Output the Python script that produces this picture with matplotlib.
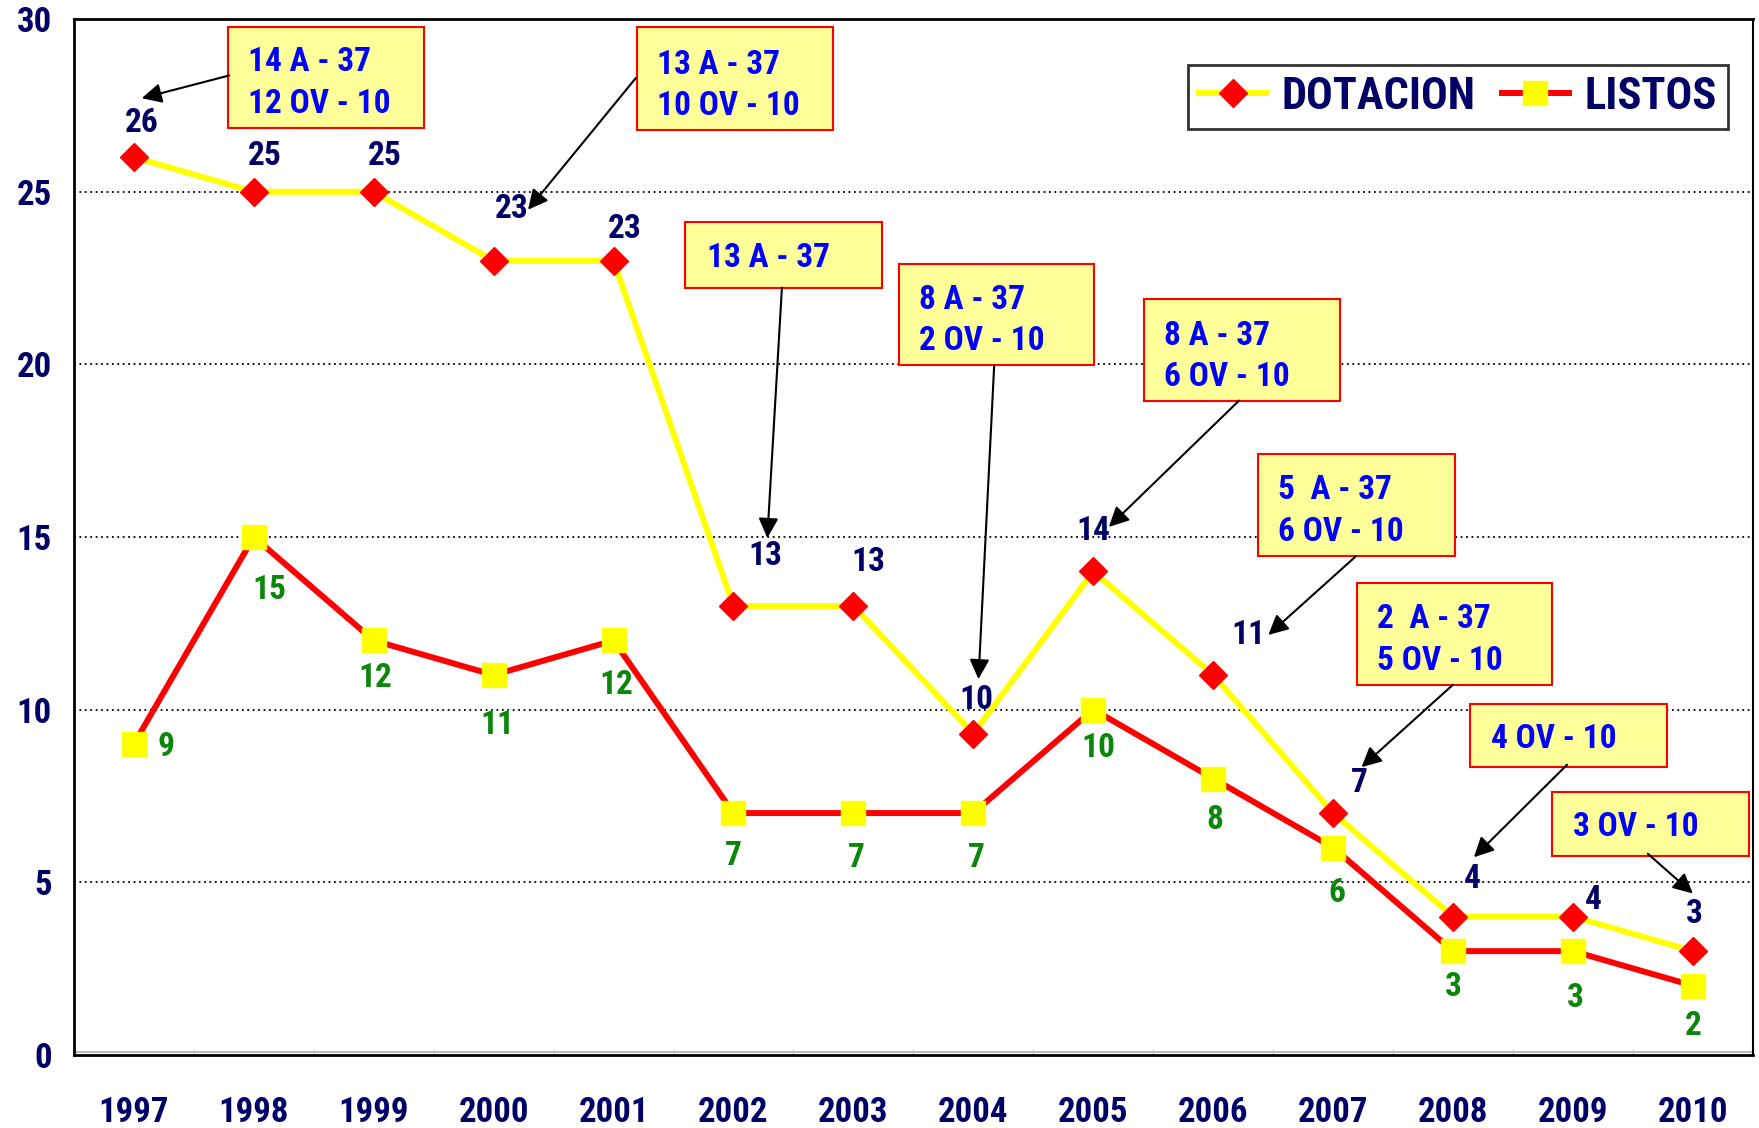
import numpy as np
import matplotlib
matplotlib.use('Agg')
import matplotlib.pyplot as plt
import matplotlib.font_manager as fm
from matplotlib.patches import Rectangle
from matplotlib.lines import Line2D

years = [1997, 1998, 1999, 2000, 2001, 2002, 2003, 2004, 2005, 2006, 2007, 2008, 2009, 2010]
dotacion = [26, 25, 25, 23, 23, 13, 13, 9.3, 14, 11, 7, 4, 4, 3]
dotacion_lbl = ['26', '25', '25', '23', '23', '13', '13', '10', '14', '11', '7', '4', '4', '3']
listos = [9, 15, 12, 11, 12, 7, 7, 7, 10, 8, 6, 3, 3, 2]

# label offsets (points)
dot_off = [(6, 25), (8, 26), (8, 26), (13, 37), (8, 23), (23, 36), (11, 32),
           (2, 24), (0, 29), (25, 29), (19, 22), (14, 27), (15, 12), (1, 27)]
lis_off = [(23, -2), (11, -38), (1, -27), (3, -36), (2, -32), (0, -31), (2, -32),
           (2, -32), (4, -28), (1, -30), (3, -33), (0, -26), (2, -34), (0, -29)]

# callout boxes: text, (x0, x1, ybot, ytop), text pos, arrow start, arrow tip
notes = [
    ('14 A - 37\n12 OV - 10', (1997.787, 1999.416, 26.86, 29.77), (1997.955, 28.15), (1997.796, 28.37), (1997.066, 27.71)),
    ('13 A - 37\n10 OV - 10', (2001.196, 2002.826, 26.80, 29.77), (2001.364, 28.08), (2001.187, 28.30), (2000.287, 24.48)),
    ('13 A - 37', (2001.599, 2003.238, 22.22, 24.12), (2001.777, 23.08), (2002.404, 22.22), (2002.282, 14.97)),
    ('8 A - 37\n2 OV - 10', (2003.378, 2005.008, 19.97, 22.91), (2003.547, 21.27), (2004.174, 19.97), (2004.043, 10.88)),
    ('8 A - 37\n6 OV - 10', (2005.420, 2007.059, 18.95, 21.90), (2005.589, 20.23), (2006.216, 18.95), (2005.130, 15.29)),
    ('5  A - 37\n6 OV - 10', (2006.375, 2008.014, 14.44, 17.39), (2006.544, 15.75), (2007.190, 14.44), (2006.460, 12.16)),
    ('2  A - 37\n5 OV - 10', (2007.199, 2008.829, 10.72, 13.66), (2007.368, 12.01), (2008.000, 10.72), (2007.237, 8.33)),
    ('4 OV - 10', (2008.145, 2009.784, 8.33, 10.16), (2008.314, 9.16), (2008.951, 8.40), (2008.174, 5.72)),
    ('3 OV - 10', (2008.829, 2010.468, 5.75, 7.61), (2008.998, 6.61), (2009.625, 5.82), (2010.000, 4.67)),
]

# pick a narrow bold font if one is there
fam = 'Liberation Sans'
for f in ['Roboto Condensed', 'Archivo Narrow', 'PT Sans Narrow', 'Liberation Sans']:
    try:
        fm.findfont(fm.FontProperties(family=f, weight='bold'), fallback_to_default=False)
        fam = f
        break
    except ValueError:
        pass
plt.rcParams['font.family'] = [fam, 'DejaVu Sans']
plt.rcParams['font.weight'] = 'bold'

navy = '#000066'
green = '#0A860A'

fig = plt.figure(figsize=(17.59, 11.28), dpi=100)
ax = fig.add_axes([0.042, 0.065, 0.9545, 0.918])

for y in [5, 10, 15, 20, 25]:
    ax.axhline(y, color='black', lw=1.3, ls=(0, (1, 2)), zorder=1)
ax.axhline(0.08, color='#BBBBBB', lw=1.5, zorder=1)

ax.plot(years, dotacion, color='#FFFF00', lw=4.3, marker='D', ms=14,
        mfc='#FF0000', mec='#FF0000', zorder=3)
ax.plot(years, listos, color='#FF0000', lw=4.3, marker='s', ms=17,
        mfc='#FFFF00', mec='#FFFF00', zorder=3)

for x, y, t, o in zip(years, dotacion, dotacion_lbl, dot_off):
    ax.annotate(t, (x, y), xytext=o, textcoords='offset points', ha='center', va='center',
                fontsize=24, color=navy, fontweight='bold', zorder=5)
for x, y, o in zip(years, listos, lis_off):
    ax.annotate(str(y), (x, y), xytext=o, textcoords='offset points', ha='center', va='center',
                fontsize=24, color=green, fontweight='bold', zorder=5)

for txt, (x0, x1, y0, y1), tpos, start, tip in notes:
    ax.add_patch(Rectangle((x0, y0), x1 - x0, y1 - y0, facecolor='#FFFF99',
                           edgecolor='#FF0000', lw=1.5, zorder=4, clip_on=False))
    ax.text(tpos[0], tpos[1], txt, ha='left', va='center', fontsize=24, color='#0000FF',
            fontweight='bold', linespacing=1.38, zorder=5)
    ax.annotate('', xy=tip, xytext=start,
                arrowprops=dict(arrowstyle='-|>', color='black', lw=1.5,
                                mutation_scale=30, shrinkA=0, shrinkB=0), zorder=5)

ax.set_xlim(1996.5, 2010.5)
ax.set_ylim(0, 30)
ax.set_xticks(years)
ax.set_xticklabels([str(y) for y in years])
ax.set_yticks([0, 5, 10, 15, 20, 25, 30])
ax.set_xticks(np.arange(1996.5, 2011, 1), minor=True)
ax.tick_params(axis='x', which='major', length=0, pad=30, labelsize=25, labelcolor=navy)
ax.tick_params(axis='x', which='minor', length=4, direction='in', color='#BBBBBB')
ax.tick_params(axis='y', length=0, pad=16, labelsize=25, labelcolor=navy)
for lab in ax.get_xticklabels() + ax.get_yticklabels():
    lab.set_fontweight('bold')

for s in ['left', 'bottom', 'top']:
    ax.spines[s].set_linewidth(2)
ax.spines['right'].set_linewidth(1.5)

h1 = Line2D([], [], color='#FFFF00', lw=4.3, marker='D', ms=14, mfc='#FF0000', mec='#FF0000')
h2 = Line2D([], [], color='#FF0000', lw=4.3, marker='s', ms=17, mfc='#FFFF00', mec='#FFFF00')
leg = ax.legend([h1, h2], ['DOTACION', 'LISTOS'], loc='upper right', bbox_to_anchor=(0.985, 0.956),
                ncol=2, fontsize=32, frameon=True, fancybox=False, handlelength=1.5,
                handletextpad=0.35, columnspacing=0.6, borderpad=0.25, borderaxespad=0)
leg.get_frame().set_edgecolor('black')
leg.get_frame().set_linewidth(2)
for t in leg.get_texts():
    t.set_color(navy)
    t.set_fontweight('bold')

fig.savefig('out.png', dpi=100)
